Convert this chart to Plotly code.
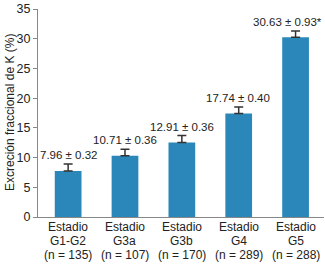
import plotly.graph_objects as go

stage_lines = [["Estadio", "G1-G2", "(n = 135)"], ["Estadio", "G3a", "(n = 107)"],
               ["Estadio", "G3b", "(n = 170)"], ["Estadio", "G4", "(n = 289)"],
               ["Estadio", "G5", "(n = 288)"]]
bar_values = [7.75, 10.3, 12.55, 17.4, 30.25]
error_drawn = [1.15, 1.1, 1.15, 1.1, 1.05]
value_labels = ["7.96 ± 0.32", "10.71 ± 0.36", "12.91 ± 0.36", "17.74 ± 0.40", "30.63 ± 0.93*"]
y_ticks = [0, 5, 10, 15, 20, 25, 30, 35]
y_title = "Excreción fraccional de K (%)"

FONT = "Liberation Sans, Arial, sans-serif"
TXT = "#222222"
label_xshift = [0, 0, 0, -1, -8]

fig = go.Figure()
fig.add_trace(go.Bar(
    x=list(range(len(stage_lines))), y=bar_values,
    marker=dict(color="#2b87ba", line=dict(width=0)),
    width=0.47,
    error_y=dict(type="data", array=error_drawn, arrayminus=[0]*5, symmetric=False,
                 color="#333333", thickness=1.5, width=4.5),
))

for i, (v, e, lab) in enumerate(zip(bar_values, error_drawn, value_labels)):
    fig.add_annotation(x=i, y=v + e, text=lab, showarrow=False, yanchor="bottom",
                       yshift=1, xshift=label_xshift[i],
                       font=dict(family=FONT, size=11.5, color=TXT))

line_shifts = [-10, -24, -38]
for i, lines in enumerate(stage_lines):
    for ln, sh in zip(lines, line_shifts):
        fig.add_annotation(x=i, y=0, text=ln, showarrow=False, yanchor="middle",
                           yshift=sh, font=dict(family=FONT, size=12, color=TXT))

fig.add_annotation(xref="paper", yref="paper", x=0, y=0.5, xshift=-28, text=y_title,
                   textangle=-90, showarrow=False, xanchor="center", yanchor="middle",
                   font=dict(family=FONT, size=12, color=TXT))

fig.update_layout(
    width=325, height=264,
    margin=dict(l=38, r=1, t=9, b=47),
    plot_bgcolor="white", paper_bgcolor="white",
    showlegend=False,
    font=dict(family=FONT, size=12, color=TXT),
    xaxis=dict(range=[-0.53, 4.5], tickmode="array", tickvals=list(range(5)),
               showticklabels=False, automargin=False,
               showline=True, linecolor="#888888", linewidth=1,
               ticks="", showgrid=False, zeroline=False),
    yaxis=dict(range=[0, 35], tickmode="array", tickvals=y_ticks, automargin=False,
               showline=True, linecolor="#888888", linewidth=1,
               ticks="outside", ticklen=4, tickcolor="#888888",
               showgrid=False, zeroline=False,
               tickfont=dict(family=FONT, size=12.5, color=TXT)),
)

fig.write_html("out.html", config={"displayModeBar": False},
               post_script="document.body.style.margin='0';document.body.style.overflow='hidden';")
